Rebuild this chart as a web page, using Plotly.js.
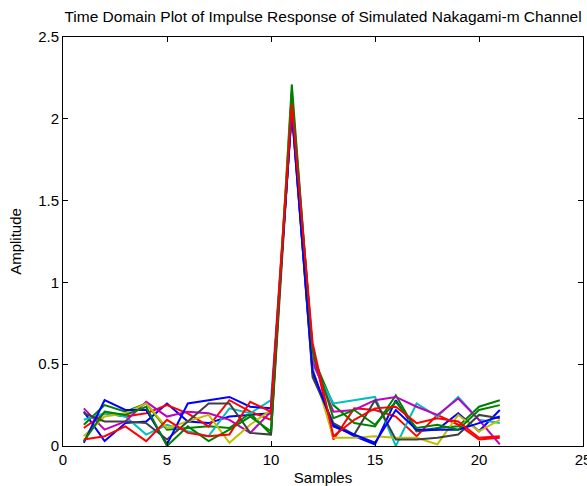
<!DOCTYPE html>
<html>
<head>
<meta charset="utf-8">
<script src="https://cdn.plot.ly/plotly-3.0.1.min.js"></script>
<style>html,body{margin:0;padding:0;background:#fff;}#plot{width:587px;height:486px;}</style>
</head>
<body>
<div id="plot"></div>
<script>
const samples = [1,2,3,4,5,6,7,8,9,10,11,12,13,14,15,16,17,18,19,20,21];
const s1 = [0.21,0.03,0.14,0.15,0.26,0.15,0.14,0.18,0.19,0.20,2.05,0.44,0.13,0.06,0.01,0.28,0.09,0.10,0.20,0.09,0.22];
const s2 = [0.13,0.25,0.21,0.26,0.10,0.11,0.12,0.11,0.20,0.07,2.21,0.55,0.25,0.14,0.12,0.31,0.09,0.11,0.12,0.24,0.28];
const s3 = [0.11,0.20,0.18,0.20,0.25,0.20,0.12,0.28,0.21,0.16,2.07,0.60,0.04,0.23,0.22,0.18,0.06,0.19,0.13,0.04,0.05];
const s4 = [0.16,0.20,0.18,0.07,0.13,0.09,0.06,0.23,0.20,0.28,2.06,0.50,0.26,0.28,0.30,0.00,0.26,0.18,0.30,0.16,0.14];
const s5 = [0.23,0.10,0.15,0.27,0.18,0.21,0.20,0.16,0.08,0.21,2.10,0.52,0.21,0.22,0.28,0.30,0.24,0.19,0.29,0.16,0.01];
const s6 = [0.06,0.18,0.20,0.26,0.11,0.15,0.19,0.02,0.13,0.22,2.12,0.48,0.05,0.05,0.06,0.05,0.05,0.01,0.19,0.09,0.16];
const s7 = [0.20,0.15,0.15,0.14,0.04,0.15,0.26,0.26,0.08,0.07,2.08,0.42,0.14,0.07,0.28,0.04,0.04,0.05,0.07,0.19,0.17];
const s8 = [0.02,0.28,0.22,0.22,0.01,0.26,0.28,0.30,0.24,0.23,2.04,0.46,0.12,0.07,0.02,0.22,0.10,0.10,0.10,0.14,0.18];
const s9 = [0.03,0.21,0.19,0.24,0.00,0.12,0.03,0.10,0.18,0.09,2.16,0.58,0.17,0.22,0.13,0.27,0.11,0.13,0.10,0.22,0.25];
const s10 = [0.04,0.06,0.12,0.03,0.16,0.08,0.06,0.07,0.27,0.21,2.09,0.63,0.06,0.16,0.23,0.24,0.14,0.17,0.15,0.05,0.06];
const seriesList = [s1,s2,s3,s4,s5,s6,s7,s8,s9,s10];
const colors = ['#0000FF','#008000','#FF0000','#00BFBF','#BF00BF','#BFBF00','#404040','#0000FF','#008000','#FF0000'];

const traces = seriesList.map((s,i)=>({
  x: samples, y: s, type:'scatter', mode:'lines',
  line:{color:colors[i], width:2}, showlegend:false
}));

const font = {family:'Liberation Sans, Arial, sans-serif', size:15, color:'#000'};
const axisCommon = {
  showgrid:false, zeroline:false, showline:true, linecolor:'#000', linewidth:1,
  mirror:'ticks', ticks:'inside', ticklen:5, tickcolor:'#000', tickwidth:1,
  tickfont:font, ticklabeloverflow:'allow'
};
const layout = {
  width:587, height:486,
  margin:{l:63, r:4, t:37, b:40, pad:0},
  paper_bgcolor:'#fff', plot_bgcolor:'#fff',
  font:font,
  title:{text:'Time Domain Plot of Impulse Response of Simulated Nakagami-m Channel',
    font:{family:'Liberation Sans, Arial, sans-serif', size:15.5, color:'#000'},
    xref:'paper', x:0.5, xanchor:'center', yref:'container', y:0.965, yanchor:'middle'},
  xaxis:Object.assign({}, axisCommon, {range:[0,25], tickvals:[0,5,10,15,20,25],
    title:{text:'Samples', font:font, standoff:6}}),
  yaxis:Object.assign({}, axisCommon, {range:[0,2.5], tickvals:[0,0.5,1,1.5,2,2.5],
    ticktext:['0','0.5','1','1.5','2','2.5'],
    title:{text:'Amplitude', font:font, standoff:12}})
};
Plotly.newPlot('plot', traces, layout, {staticPlot:true, displayModeBar:false});
</script>
</body>
</html>
